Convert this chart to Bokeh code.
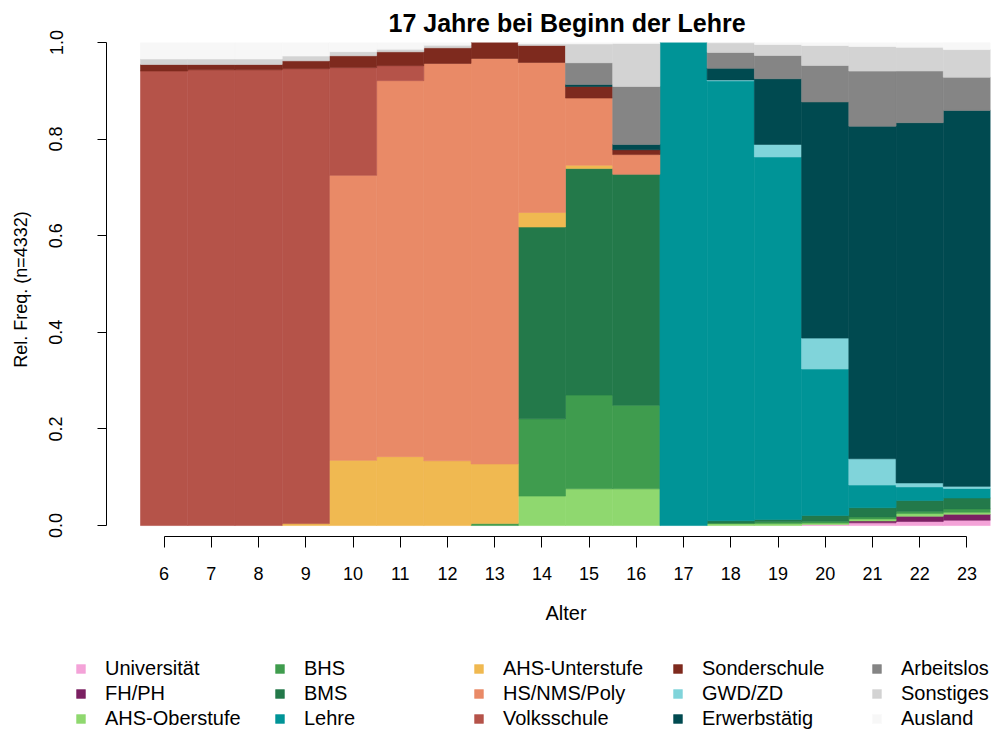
from bokeh.plotting import figure
from bokeh.models import (ColumnDataSource, Range1d, LinearAxis, FixedTicker,
                          PrintfTickFormatter, Legend, LegendItem, Title)
from bokeh.embed import file_html
from bokeh.resources import INLINE

ages = list(range(6, 24))

states = ["Universität", "FH/PH", "AHS-Oberstufe", "BHS", "BMS", "Lehre",
          "AHS-Unterstufe", "HS/NMS/Poly", "Volksschule", "Sonderschule",
          "GWD/ZD", "Erwerbstätig", "Arbeitslos", "Sonstiges", "Ausland"]

colors = ["#F4A3D8", "#7B2062", "#8FD86F", "#3F9C4E", "#23794A", "#009497",
          "#F0B951", "#E98A67", "#B55349", "#7E2A1E", "#80D4DA", "#004A50",
          "#858585", "#D3D3D3", "#F7F7F7"]

# ages:           6       7       8       9       10      11      12      13      14      15      16      17     18      19      20      21      22      23
universitaet = [0,      0,      0,      0,      0,      0,      0,      0,      0,      0,      0,      0,     0,      0,      0.002,  0.0056, 0.0083, 0.011]
fh_ph        = [0,      0,      0,      0,      0,      0,      0,      0,      0,      0,      0,      0,     0,      0,      0,      0.004,  0.011,  0.0124]
ahs_ober     = [0,      0,      0,      0,      0,      0,      0,      0,      0.061,  0.076,  0.076,  0,     0.004,  0.004,  0.003,  0.004,  0.0055, 0.004]
bhs          = [0,      0,      0,      0,      0,      0,      0,      0.004,  0.160,  0.194,  0.173,  0,     0.001,  0.0036, 0.004,  0.0042, 0.0048, 0.007]
bms          = [0,      0,      0,      0,      0,      0,      0,      0,      0.397,  0.469,  0.478,  0,     0.005,  0.0048, 0.0117, 0.0192, 0.0221, 0.0227]
lehre        = [0,      0,      0,      0,      0,      0,      0,      0,      0,      0,      0,      1.0,   0.9105, 0.7506, 0.3033, 0.0468, 0.0283, 0.0198]
ahs_unter    = [0,      0,      0,      0.004,  0.135,  0.1426, 0.134,  0.1235, 0.030,  0.007,  0,      0,     0,      0,      0,      0,      0,      0]
hs_nms_poly  = [0,      0,      0,      0,      0.590,  0.7784, 0.8226, 0.8395, 0.3107, 0.139,  0.041,  0,     0,      0,      0,      0,      0,      0]
volksschule  = [0.941,  0.9435, 0.9435, 0.9417, 0.223,  0.031,  0,      0,      0,      0,      0,      0,     0,      0,      0,      0,      0,      0]
sonderschule = [0.0135, 0.011,  0.011,  0.0163, 0.0245, 0.0287, 0.0324, 0.033,  0.0353, 0.024,  0.010,  0,     0,      0,      0,      0,      0,      0]
gwd_zd       = [0,      0,      0,      0,      0,      0,      0,      0,      0,      0,      0,      0,     0.002,  0.026,  0.064,  0.0544, 0.0082, 0.0042]
erwerb       = [0,      0,      0,      0,      0,      0,      0,      0,      0,      0.004,  0.011,  0,     0.024,  0.136,  0.489,  0.6886, 0.7458, 0.7783]
arbeitslos   = [0,      0,      0,      0,      0,      0,      0,      0,      0,      0.045,  0.120,  0,     0.033,  0.048,  0.0755, 0.114,  0.107,  0.0685]
sonstiges    = [0.0115, 0.0115, 0.0115, 0.010,  0.0085, 0.0053, 0.0055, 0,      0.003,  0.039,  0.089,  0,     0.020,  0.023,  0.0415, 0.051,  0.049,  0.0575]
ausland      = [0.034,  0.034,  0.034,  0.028,  0.019,  0.014,  0.0055, 0,      0.003,  0.003,  0.002,  0,     0.0014, 0.004,  0.006,  0.008,  0.010,  0.0145]

series = [universitaet, fh_ph, ahs_ober, bhs, bms, lehre, ahs_unter, hs_nms_poly,
          volksschule, sonderschule, gwd_zd, erwerb, arbeitslos, sonstiges, ausland]

y_ticks = [0.0, 0.2, 0.4, 0.6, 0.8, 1.0]

FONT = "Liberation Sans"

p = figure(width=994, height=640, output_backend="svg", toolbar_location=None,
           x_range=Range1d(4.78, 23.5), y_range=Range1d(-0.0227, 1.0),
           x_axis_location=None, y_axis_location=None,
           min_border_left=106, min_border_right=4, min_border_top=42,
           min_border_bottom=103)
p.outline_line_color = None
p.xgrid.visible = False
p.ygrid.visible = False
p.background_fill_color = "white"
p.border_fill_color = "white"

p.title.text = "17 Jahre bei Beginn der Lehre"
p.title.text_font = FONT
p.title.text_font_size = "25px"
p.title.text_font_style = "bold"
p.title.text_color = "black"
p.title.align = "left"
p.title.offset = 282
p.title.standoff = 11

# stacked bars, bottoms/tops built from the series above
sources = []
cum = [0.0] * len(ages)
for name, vals, col in zip(states, series, colors):
    xs, bots, tops = [], [], []
    for a, b, v in zip(ages, cum, vals):
        if v > 0:
            xs.append(a)
            bots.append(b)
            tops.append(b + v)
    src = ColumnDataSource(dict(x=xs, bottom=bots, top=tops))
    sources.append(src)
    p.vbar(x="x", bottom="bottom", top="top", width=1.0, source=src,
           fill_color=col, line_color=col, line_width=0.6)
    cum = [b + v for b, v in zip(cum, vals)]

xaxis = LinearAxis(bounds=(6, 23), ticker=FixedTicker(ticks=ages))
yaxis = LinearAxis(bounds=(0, 1), ticker=FixedTicker(ticks=y_ticks),
                   formatter=PrintfTickFormatter(format="%.1f"),
                   axis_label="Rel. Freq. (n=4332)")
for ax in (xaxis, yaxis):
    ax.axis_line_color = "black"
    ax.major_tick_line_color = "black"
    ax.major_tick_in = 0
    ax.minor_tick_line_color = None
    ax.major_label_text_font = FONT
    ax.major_label_text_font_size = "18px"
    ax.major_label_text_color = "black"
    ax.axis_label_text_font = FONT
    ax.axis_label_text_font_size = "18px"
    ax.axis_label_text_font_style = "normal"
    ax.axis_label_text_color = "black"

xaxis.major_tick_out = 11
xaxis.major_label_standoff = 19
yaxis.major_tick_out = 9
yaxis.major_label_orientation = "vertical"
yaxis.major_label_standoff = 35
yaxis.axis_label_standoff = 16

p.add_layout(xaxis, "below")
p.add_layout(yaxis, "left")

# x-axis title, centred like the main title
xtitle = Title(text="Alter", align="left", offset=439, standoff=34,
               text_font=FONT, text_font_size="20px", text_font_style="normal",
               text_color="black")
p.add_layout(xtitle, "below")

# legend panel below the plot: key glyphs share the bar sources (kept off-view)
lg = figure(width=994, height=95, output_backend="svg", toolbar_location=None,
            x_range=Range1d(-20, -19), y_range=Range1d(-20, -19),
            x_axis_location=None, y_axis_location=None,
            min_border_left=0, min_border_right=0, min_border_top=0,
            min_border_bottom=0)
lg.outline_line_color = None
lg.xgrid.visible = False
lg.ygrid.visible = False
keys = []
for src, col in zip(sources, colors):
    keys.append(lg.vbar(x="x", bottom="bottom", top="top", width=1.0,
                        source=src, fill_color=col, line_color=col,
                        line_width=0.6))

items = [LegendItem(label=lab, renderers=[r]) for lab, r in zip(states, keys)]
legend = Legend(items=items, orientation="vertical", nrows=3,
                location=(75, 5))
legend.label_text_font = FONT
legend.label_text_font_size = "20px"
legend.label_text_color = "black"
legend.glyph_width = 11
legend.glyph_height = 11
legend.label_standoff = 19
legend.label_width = 167
legend.label_height = 20
legend.spacing = 2
legend.padding = 0
legend.margin = 0
legend.border_line_color = None
legend.background_fill_alpha = 0
lg.add_layout(legend, "center")

open("out.html", "w").write(file_html([p, lg], INLINE))
